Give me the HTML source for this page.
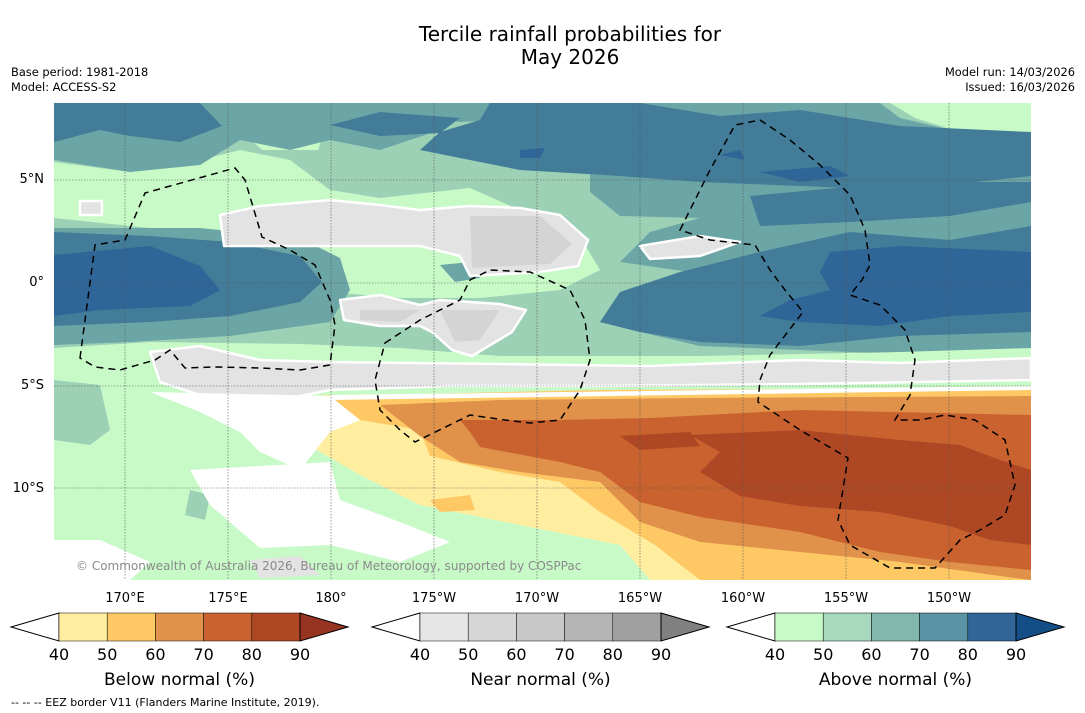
<!DOCTYPE html>
<html><head><meta charset="utf-8"><style>
html,body{margin:0;padding:0;background:#fff;}
svg{display:block;font-family:"DejaVu Sans","Liberation Sans",sans-serif;}
</style></head><body>
<svg id="fig" width="1085" height="713" viewBox="0 0 1085 713">
<text x="570" y="41" font-size="20" text-anchor="middle">Tercile rainfall probabilities for</text>
<text x="570" y="64" font-size="20" text-anchor="middle">May 2026</text>
<text x="11" y="76" font-size="11.4">Base period: 1981-2018</text>
<text x="11" y="91" font-size="11.4">Model: ACCESS-S2</text>
<text x="1075" y="76" font-size="11.4" text-anchor="end">Model run: 14/03/2026</text>
<text x="1075" y="91" font-size="11.4" text-anchor="end">Issued: 16/03/2026</text>

<defs><clipPath id="mc"><rect x="54" y="103" width="977" height="477"/></clipPath></defs>
<g clip-path="url(#mc)">
<rect x="54" y="103" width="977" height="477" fill="#c8fac8"/>
<path fill="#9dd1b6" d="M54,103 H1031 V360 L900,366 L700,370 L500,366 L340,358 L250,348 L150,352 L54,358 Z"/>
<path fill="#9dd1b6" d="M54,380 L100,385 L110,430 L90,445 L54,440 Z M190,490 L210,495 L205,520 L185,515 Z"/>
<path fill="#c8fac8" d="M54,162 L130,172 L200,160 L240,150 L290,160 L330,190 L380,198 L470,188 L520,210 L585,245 L600,270 L560,290 L480,298 L400,298 L330,292 L300,268 L230,236 L130,226 L54,218 Z"/>
<path fill="#c8fac8" d="M890,103 L1031,103 L1031,136 L960,132 L915,118 Z M232,122 L290,116 L326,126 L318,150 L262,150 Z"/>
<path fill="#6ca5a6" d="M54,103 L440,103 L440,130 L380,150 L330,140 L290,150 L240,140 L200,165 L130,172 L54,160 Z"/>
<path fill="#6ca5a6" d="M330,103 L880,103 L900,118 L960,132 L1031,136 L1031,160 L960,162 L900,150 L800,130 L730,132 L650,132 L580,140 L540,118 L460,122 L420,116 Z"/>
<path fill="#6ca5a6" d="M54,228 L200,228 L300,238 L340,258 L350,290 L330,322 L230,336 L130,342 L54,345 Z"/>
<path fill="#6ca5a6" d="M590,165 L1031,160 L1031,352 L900,354 L800,350 L700,346 L640,332 L600,322 L640,292 L690,272 L620,262 L650,232 L700,218 L620,216 L590,192 Z"/>
<path fill="#6ca5a6" d="M440,265 L470,262 L480,278 L455,282 Z M690,305 L720,305 L715,320 L690,318 Z"/>
<path fill="#427c98" d="M54,103 L200,103 L222,126 L180,142 L130,136 L100,130 L54,142 Z M330,125 L380,112 L460,118 L440,133 L380,136 Z"/>
<path fill="#427c98" d="M490,103 L640,103 L720,116 L800,110 L900,126 L1031,132 L1031,176 L900,190 L800,186 L700,182 L620,176 L520,170 L470,160 L420,150 L440,132 L480,120 Z"/>
<path fill="#427c98" d="M54,232 L150,236 L230,242 L300,256 L322,282 L300,302 L230,316 L150,322 L54,326 Z"/>
<path fill="#427c98" d="M620,292 L680,272 L760,252 L850,232 L950,240 L1031,226 L1031,332 L900,336 L800,346 L700,342 L640,332 L600,322 Z"/>
<path fill="#427c98" d="M750,196 L900,182 L1031,182 L1031,202 L950,216 L850,222 L760,226 Z"/>
<path fill="#2f6597" d="M54,255 L150,246 L200,266 L220,290 L190,306 L100,310 L54,316 Z"/>
<path fill="#2f6597" d="M830,252 L900,246 L1031,252 L1031,312 L950,316 L880,326 L800,322 L760,316 L790,300 L830,290 L820,272 Z"/>
<path fill="#2f6597" d="M760,172 L830,166 L850,176 L800,182 Z M520,150 L545,148 L540,158 L520,158 Z M720,155 L740,150 L745,160 Z"/>
<path fill="#c8fac8" d="M54,348 L150,342 L300,344 L400,348 L500,356 L700,356 L900,352 L1031,348 L1031,364 L54,374 Z"/>
<g stroke="#fff" stroke-width="2.5" stroke-linejoin="round">
<path fill="#e3e3e3" d="M220,215 L260,206 L330,200 L380,205 L420,210 L470,206 L520,208 L560,215 L588,240 L578,266 L540,272 L470,276 L460,256 L420,246 L380,246 L330,246 L270,246 L224,246 Z"/>
<path fill="#e3e3e3" d="M340,300 L380,295 L420,305 L440,300 L500,304 L526,310 L512,332 L472,356 L452,350 L432,332 L420,326 L380,326 L344,320 Z"/>
<path fill="#e3e3e3" d="M150,352 L200,346 L260,360 L330,362 L500,364 L650,366 L800,360 L900,363 L1031,358 L1031,380 L800,384 L600,386 L450,386 L330,390 L280,400 L230,405 L200,395 L160,382 Z"/>
<path fill="#e3e3e3" d="M640,246 L700,236 L740,242 L700,256 L650,259 Z M80,201 L102,201 L102,215 L80,215 Z"/>
</g>
<path fill="#d4d4d4" d="M470,216 L540,216 L572,244 L550,264 L472,268 Z M440,310 L500,310 L480,340 L455,342 Z M360,310 L420,310 L400,322 L360,320 Z"/>
<path fill="#ffeda0" d="M230,400 L330,395 L450,394 L600,392 L800,390 L1031,388 L1031,580 L650,580 L620,545 L520,525 L420,505 L360,475 L300,440 Z"/>
<path fill="#fec965" d="M330,396 L600,390 L1031,388 L1031,580 L700,580 L655,545 L600,512 L560,482 L500,472 L430,456 L420,430 L360,420 L330,410 Z"/>
<path fill="#fec965" d="M430,500 L470,495 L475,510 L440,512 Z"/>
<path fill="#e0924a" d="M380,405 L500,400 L700,398 L1031,396 L1031,580 L1000,576 L900,562 L800,552 L700,542 L640,522 L600,482 L520,472 L460,462 L420,436 Z"/>
<path fill="#c9622f" d="M460,420 L560,420 L650,418 L800,410 L1031,415 L1031,570 L950,562 L880,552 L800,532 L700,517 L640,502 L600,472 L560,462 L480,447 L470,432 Z"/>
<path fill="#ae4724" d="M690,435 L800,430 L900,440 L960,445 L1000,460 L1031,470 L1031,545 L990,540 L950,526 L880,512 L800,506 L740,496 L700,472 L720,452 Z M620,436 L690,432 L700,446 L640,450 Z"/>
<path fill="#fff" d="M150,392 L330,396 L360,420 L330,432 L300,470 L260,452 L240,432 L200,412 Z"/>
<path fill="#fff" d="M190,470 L330,462 L340,500 L400,522 L450,542 L400,562 L330,545 L260,548 L210,505 Z"/>
<path fill="#fff" d="M54,540 L100,540 L150,562 L130,580 L54,580 Z M330,395 L1031,386 L1031,390 L330,400 Z"/>
<path fill="#e3e3e3" d="M250,560 L300,556 L320,575 L260,578 Z"/>
<g stroke="#555" stroke-width="0.6" stroke-dasharray="1.5,1.5">
<path d="M125,103V580M228,103V580M331,103V580M434,103V580M537,103V580M640,103V580M743,103V580M846,103V580M949,103V580M54,180H1031M54,283H1031M54,386H1031M54,488H1031"/>
</g>
<g fill="none" stroke="#000" stroke-width="1.5" stroke-dasharray="7,5">
<path d="M80,358 L95,245 L125,240 L145,193 L235,168 L245,180 L262,237 L290,250 L315,265 L330,300 L335,325 L330,365 L300,370 L260,368 L215,367 L185,368 L170,350 L155,360 L120,370 L95,367 Z"/>
<path d="M385,343 L420,320 L460,300 L470,280 L490,270 L530,272 L570,290 L585,320 L590,360 L580,390 L560,420 L530,423 L505,420 L470,415 L415,442 L400,430 L380,410 L375,380 Z"/>
<path d="M680,230 L710,170 L735,125 L760,120 L790,140 L820,165 L850,195 L865,230 L870,265 L862,280 L850,295 L880,305 L905,330 L915,360 L910,395 L895,420 L920,420 L945,415 L975,420 L1005,440 L1015,485 L1005,515 L980,530 L960,540 L935,568 L890,568 L850,545 L838,520 L848,458 L800,430 L758,402 L760,380 L770,355 L803,312 L785,290 L770,270 L755,245 L710,240 Z"/>
</g>
<text x="76" y="570" font-size="12" fill="#8a8a8a">© Commonwealth of Australia 2026, Bureau of Meteorology, supported by COSPPac</text>
</g>
<g font-size="13">
<text x="44" y="183" text-anchor="end">5°N</text>
<text x="44" y="286" text-anchor="end">0°</text>
<text x="44" y="389" text-anchor="end">5°S</text>
<text x="44" y="492" text-anchor="end">10°S</text>
<text x="125" y="602" text-anchor="middle">170°E</text>
<text x="228" y="602" text-anchor="middle">175°E</text>
<text x="331" y="602" text-anchor="middle">180°</text>
<text x="434" y="602" text-anchor="middle">175°W</text>
<text x="537" y="602" text-anchor="middle">170°W</text>
<text x="640" y="602" text-anchor="middle">165°W</text>
<text x="743" y="602" text-anchor="middle">160°W</text>
<text x="846" y="602" text-anchor="middle">155°W</text>
<text x="949" y="602" text-anchor="middle">150°W</text>
</g>
<g id="cbars"></g>
<text x="11" y="706" font-size="11">--  --  -- EEZ border V11 (Flanders Marine Institute, 2019).</text>
</svg>
<script>
const levels = [40, 50, 60, 70, 80, 90];
const belowColors = ["#ffeda0", "#fec965", "#e0924a", "#c9622f", "#ae4724"];
const nearColors = ["#e6e6e6", "#d6d6d6", "#c8c8c8", "#b4b4b4", "#a0a0a0"];
const aboveColors = ["#c8fac8", "#a6d9be", "#82b8ab", "#5a93a3", "#316597"];
const overColors = ["#973421", "#808080", "#134e87"];
const barTitles = ["Below normal (%)", "Near normal (%)", "Above normal (%)"];
const barLefts = [59, 420, 775];
(function(){
const NS = "http://www.w3.org/2000/svg";
const g = document.getElementById("cbars");
const sets = [belowColors, nearColors, aboveColors];
const boxW = 48.2, barTop = 613, h = 28;
function mk(tag, attrs){const e=document.createElementNS(NS,tag);for(const k in attrs)e.setAttribute(k,attrs[k]);return e;}
sets.forEach((cols, i) => {
  const x0 = barLefts[i];
  const grp = mk("g", {});
  
  
  grp.appendChild(mk("polygon", {points: `${x0},${barTop} ${x0-48},${barTop+h/2} ${x0},${barTop+h}`, fill: "#fff", stroke: "#000", "stroke-width": 1}));
  cols.forEach((c, j) => {
    const r = mk("rect", {x: x0 + j*boxW, y: barTop, width: boxW, height: h, fill: c, stroke: "#000", "stroke-width": 0.5});
    
    
    grp.appendChild(r);
  });
  const xe = x0 + cols.length*boxW;
  grp.appendChild(mk("polygon", {points: `${xe},${barTop} ${xe+48},${barTop+h/2} ${xe},${barTop+h}`, fill: overColors[i], stroke: "#000", "stroke-width": 1}));
  levels.forEach((lv, j) => {
    const t = mk("text", {x: x0 + j*boxW, y: barTop+h+19, "font-size": 16, "text-anchor": "middle"});
    t.textContent = lv;
    
    
    grp.appendChild(t);
  });
  const tt = mk("text", {x: x0 + 2.5*boxW, y: 685, "font-size": 17, "text-anchor": "middle"});
  tt.textContent = barTitles[i];
  
  
  grp.appendChild(tt);
  g.appendChild(grp);
});
})();
</script>
</body></html>
